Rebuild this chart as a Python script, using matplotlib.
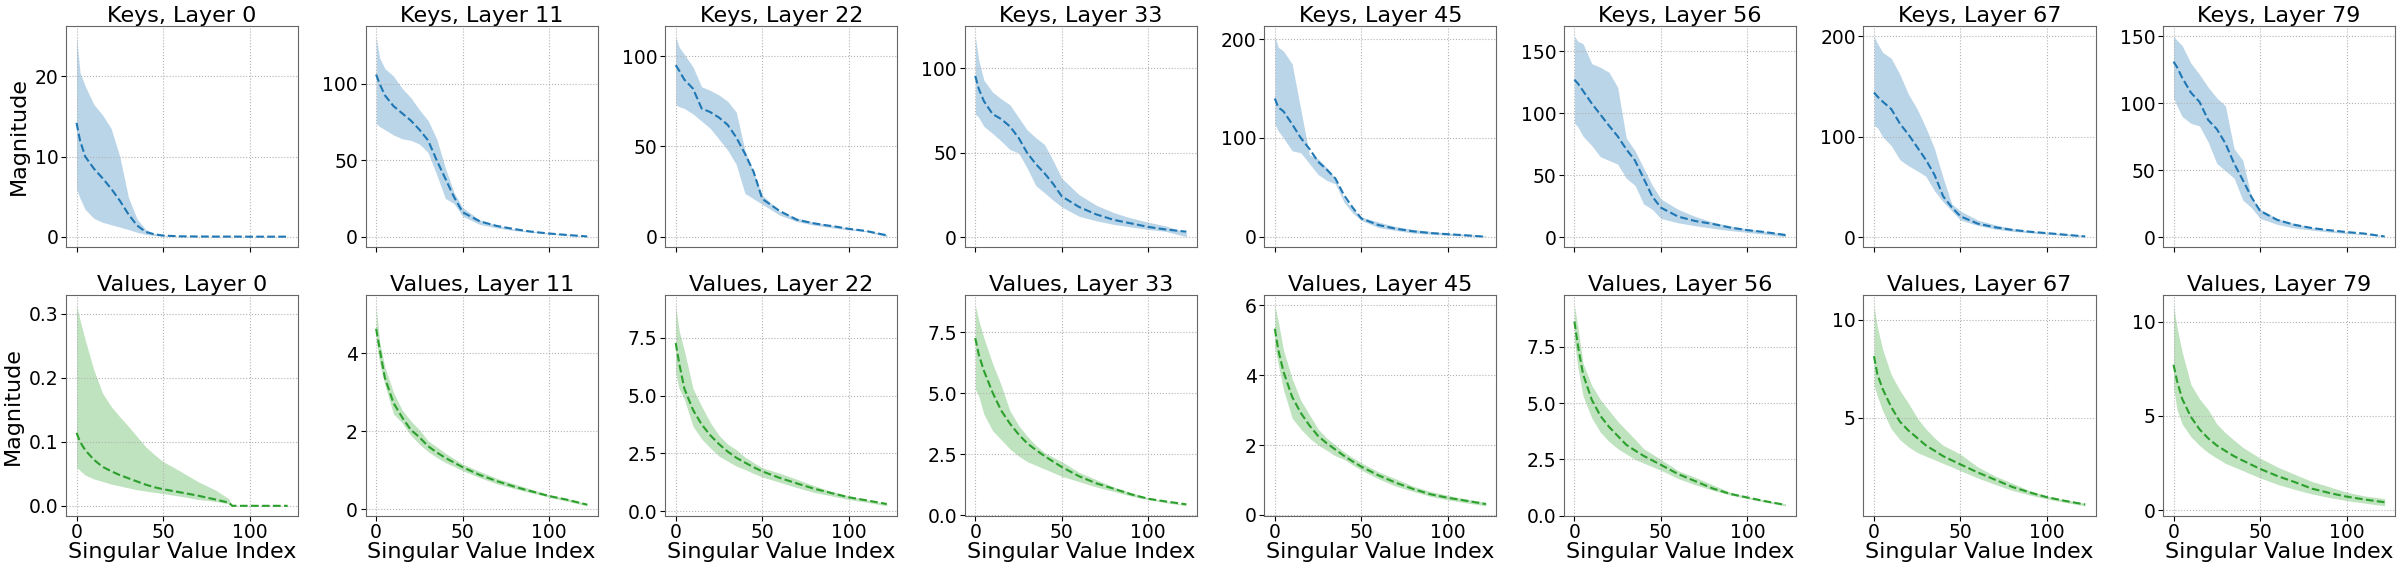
import matplotlib
matplotlib.use("Agg")
import matplotlib.pyplot as plt
from matplotlib.ticker import MaxNLocator

layers = [0, 11, 22, 33, 45, 56, 67, 79]
idx = [0, 2, 5, 10, 15, 20, 25, 30, 35, 40, 45, 50, 60, 70, 80, 88, 90, 100, 110, 122]

# keys: mean and band (lo/hi) per layer
keys_mean = [
    [14.2, 12, 10, 8.5, 7.3, 6.0, 4.5, 2.8, 1.4, 0.6, 0.3, 0.15, 0.05, 0.03, 0.02, 0.02, 0.02, 0.01, 0.01, 0.01],
    [106, 100, 92.5, 85.4, 80.7, 76, 70, 63, 50, 38, 26, 16, 10, 7, 5, 3.6, 3.3, 2.1, 1.2, 0.2],
    [95, 92, 87, 82, 71, 69, 66, 62, 55, 46, 36, 21, 14.3, 9.4, 7.4, 6.2, 6, 4.4, 3.2, 0.8],
    [95.5, 88, 80.6, 73, 70, 65.7, 59, 50, 43.4, 38, 31.7, 24.3, 18, 13.6, 10.4, 8.7, 8.3, 6.2, 4.7, 3.4],
    [140, 131, 127, 114, 100, 89, 76, 68, 59, 42, 29.5, 18.5, 11.8, 8.1, 5.5, 4.1, 3.7, 2.6, 1.5, 0],
    [127, 124, 118, 108, 99, 90, 81.5, 71, 62, 47.6, 33, 24, 16.8, 13.2, 10.9, 8.6, 8, 5.9, 4.4, 2],
    [144, 140, 135, 127.5, 113, 102, 89.5, 77, 62, 40.6, 29.7, 20.7, 13.4, 9.8, 7.2, 5.8, 5.4, 4, 2.5, 0.7],
    [131, 127, 119, 108, 101, 87.5, 80.7, 70, 55, 42.7, 30, 19.6, 12.8, 9.2, 6.8, 5.5, 5.2, 3.8, 2.7, 0.5],
]
keys_lo = [
    [5.9, 4.8, 3.4, 2.3, 1.8, 1.5, 1.2, 0.9, 0.55, 0.3, 0.15, 0.08, 0.03, 0.01, 0.01, 0, 0, 0, 0, 0],
    [74, 72, 70, 66.5, 64, 63, 60.6, 55, 40.5, 25, 21.7, 13.4, 8, 5.7, 4, 3.0, 2.8, 1.7, 0.9, 0],
    [73, 72, 71, 68, 64, 60, 54, 48, 40, 24, 21, 18, 12, 8.4, 6.4, 5.3, 5, 3.8, 2.8, 0],
    [73, 71, 65.7, 61.5, 57, 52, 50, 41, 30.6, 26.4, 22, 18, 12.5, 9.8, 7.7, 6.5, 6.2, 4.7, 3.6, 0.4],
    [114, 107, 100, 87, 85, 74, 63, 57, 53.5, 35, 24, 16.6, 9.2, 6.3, 3.7, 2.8, 2.6, 1.5, 0.7, 0],
    [92, 89, 81.5, 74, 65, 62, 59, 47.6, 42, 27, 22.6, 15.3, 11.8, 9.4, 7.4, 5.9, 5.6, 4.1, 2.6, 0.6],
    [111, 109, 100, 91, 77, 71, 66, 60.5, 46, 35, 26, 17, 11.6, 8, 5.8, 4.6, 4.3, 2.9, 1.8, 0.4],
    [104, 98, 90, 85, 83, 71, 55, 49.5, 44, 27.7, 22, 14, 9.5, 6.8, 5.2, 4.1, 3.8, 2.7, 1.9, 0.3],
]
keys_hi = [
    [25, 20.5, 18.8, 16.5, 15.2, 13.5, 10, 4.9, 2.2, 0.9, 0.4, 0.2, 0.05, 0.03, 0.02, 0.02, 0.02, 0.01, 0.01, 0.01],
    [131, 117, 110, 105, 97, 91, 83, 76, 64, 45, 29, 19, 11, 7.5, 5, 3.8, 3.5, 2.4, 1.4, 0.3],
    [111, 105, 101, 94, 83, 81, 78.5, 75, 69, 48, 36, 23, 14.3, 10.4, 8, 6.7, 6.4, 4.8, 3.4, 1.4],
    [119, 105, 93, 86, 82, 78.5, 71, 63.6, 59, 55, 45.5, 35, 25.3, 19, 14.7, 12.1, 11.5, 9, 6.8, 3],
    [203, 192, 188, 175, 129, 83, 79, 70, 59, 39, 28, 20, 14.8, 10.3, 7.4, 5.9, 5.5, 3.7, 2.6, 0.7],
    [162, 158, 156, 140, 137, 133, 121, 80, 70, 56, 42, 31, 22.6, 16.8, 12.4, 10, 9.4, 7, 5, 2.9],
    [200, 193, 184, 178, 162, 142, 127.5, 109, 88, 59, 33, 26, 17, 12.3, 8.7, 6.7, 6.2, 4.3, 3.3, 1.8],
    [150, 147, 143, 130, 121.5, 112, 104, 98, 66, 57.6, 30, 21, 14, 10, 7.3, 5.8, 5.4, 3.8, 2.4, 1.1],
]

# values: mean and band (lo/hi) per layer
vals_mean = [
    [0.114, 0.10, 0.087, 0.072, 0.061, 0.054, 0.048, 0.043, 0.038, 0.033, 0.029, 0.026, 0.021, 0.016, 0.010, 0.005, 0, 0, 0, 0],
    [4.63, 4.12, 3.38, 2.73, 2.36, 2.04, 1.85, 1.62, 1.46, 1.32, 1.2, 1.08, 0.88, 0.72, 0.58, 0.48, 0.46, 0.34, 0.25, 0.12],
    [7.27, 6.4, 5.3, 4.38, 3.75, 3.28, 2.9, 2.58, 2.31, 2.1, 1.9, 1.72, 1.44, 1.2, 0.97, 0.82, 0.78, 0.6, 0.47, 0.31],
    [7.26, 6.59, 5.92, 5.03, 4.29, 3.76, 3.32, 2.95, 2.68, 2.43, 2.2, 1.98, 1.6, 1.31, 1.09, 0.91, 0.86, 0.68, 0.57, 0.45],
    [5.33, 4.72, 4.1, 3.38, 2.92, 2.56, 2.26, 2.05, 1.87, 1.69, 1.53, 1.38, 1.13, 0.92, 0.74, 0.62, 0.59, 0.49, 0.41, 0.31],
    [8.63, 7.58, 6.29, 5.16, 4.44, 3.95, 3.55, 3.15, 2.9, 2.66, 2.46, 2.26, 1.85, 1.53, 1.21, 1.02, 0.97, 0.81, 0.65, 0.48],
    [8.15, 7.22, 6.48, 5.55, 4.81, 4.35, 3.98, 3.6, 3.33, 3.05, 2.84, 2.63, 2.22, 1.85, 1.48, 1.26, 1.2, 0.96, 0.78, 0.59],
    [7.71, 6.86, 5.9, 4.95, 4.29, 3.81, 3.43, 3.14, 2.86, 2.63, 2.41, 2.19, 1.81, 1.49, 1.14, 0.96, 0.91, 0.72, 0.57, 0.42],
]
vals_lo = [
    [0.060, 0.055, 0.048, 0.042, 0.038, 0.034, 0.031, 0.028, 0.025, 0.023, 0.021, 0.019, 0.015, 0.010, 0.007, 0.003, 0, 0, 0, 0],
    [4.35, 3.75, 3.2, 2.45, 2.22, 1.9, 1.67, 1.48, 1.33, 1.2, 1.1, 0.99, 0.81, 0.65, 0.53, 0.44, 0.42, 0.31, 0.21, 0.09],
    [5.94, 5.3, 4.84, 3.67, 3.12, 2.73, 2.38, 2.16, 1.95, 1.8, 1.63, 1.48, 1.25, 1.02, 0.81, 0.69, 0.66, 0.5, 0.39, 0.23],
    [5.18, 4.88, 4.14, 3.47, 3.1, 2.72, 2.43, 2.2, 2.05, 1.9, 1.75, 1.6, 1.38, 1.16, 0.98, 0.83, 0.79, 0.64, 0.52, 0.39],
    [4.82, 4.3, 3.59, 2.77, 2.46, 2.2, 2.0, 1.85, 1.69, 1.59, 1.43, 1.28, 1.03, 0.82, 0.67, 0.56, 0.53, 0.43, 0.35, 0.26],
    [7.74, 6.6, 5.32, 4.35, 3.71, 3.3, 2.98, 2.74, 2.5, 2.34, 2.18, 2.02, 1.65, 1.37, 1.13, 0.96, 0.92, 0.76, 0.6, 0.44],
    [6.67, 6.1, 5.37, 4.44, 3.89, 3.52, 3.24, 3.05, 2.87, 2.68, 2.5, 2.31, 1.94, 1.61, 1.3, 1.12, 1.07, 0.87, 0.7, 0.52],
    [6.48, 5.33, 4.57, 3.9, 3.43, 3.05, 2.76, 2.48, 2.29, 2.1, 1.9, 1.71, 1.37, 1.1, 0.86, 0.71, 0.67, 0.51, 0.38, 0.23],
]
vals_hi = [
    [0.313, 0.29, 0.259, 0.212, 0.176, 0.155, 0.139, 0.124, 0.108, 0.092, 0.080, 0.069, 0.054, 0.038, 0.025, 0.011, 0, 0, 0, 0],
    [5.23, 4.3, 3.66, 3.0, 2.55, 2.27, 2.04, 1.76, 1.6, 1.44, 1.3, 1.16, 0.97, 0.79, 0.65, 0.54, 0.51, 0.37, 0.28, 0.14],
    [8.9, 7.8, 6.95, 5.3, 4.53, 3.83, 3.28, 2.9, 2.66, 2.34, 2.1, 1.88, 1.64, 1.38, 1.1, 0.9, 0.86, 0.66, 0.5, 0.31],
    [8.6, 8.0, 7.26, 6.22, 5.33, 4.29, 3.69, 3.24, 2.87, 2.57, 2.38, 2.2, 1.76, 1.46, 1.16, 0.98, 0.94, 0.71, 0.57, 0.42],
    [6.0, 5.54, 4.72, 3.9, 3.28, 2.87, 2.46, 2.2, 2.0, 1.8, 1.64, 1.49, 1.23, 1.03, 0.82, 0.7, 0.67, 0.56, 0.46, 0.36],
    [9.35, 8.4, 6.77, 5.8, 5.16, 4.68, 4.2, 3.8, 3.4, 2.98, 2.74, 2.5, 2.0, 1.7, 1.37, 1.11, 1.05, 0.84, 0.68, 0.52],
    [10.74, 9.63, 8.5, 7.2, 6.4, 5.74, 5.0, 4.44, 3.98, 3.6, 3.38, 3.15, 2.5, 2.04, 1.67, 1.37, 1.3, 1.02, 0.83, 0.65],
    [10.86, 9.7, 8.38, 6.67, 5.9, 5.33, 4.57, 4.1, 3.71, 3.33, 3.04, 2.76, 2.29, 1.9, 1.52, 1.3, 1.24, 0.95, 0.76, 0.61],
]

fig, axes = plt.subplots(2, 8, figsize=(24, 5.7), dpi=100, sharex=True)
fig.subplots_adjust(left=0.0275, right=0.998, top=0.954, bottom=0.095,
                    wspace=0.29, hspace=0.22)

rows = [
    ("Keys", keys_mean, keys_lo, keys_hi, "tab:blue"),
    ("Values", vals_mean, vals_lo, vals_hi, "tab:green"),
]

for r, (name, means, los, his, color) in enumerate(rows):
    for c, layer in enumerate(layers):
        ax = axes[r, c]
        ax.fill_between(idx, los[c], his[c], color=color, alpha=0.3, linewidth=0)
        ax.plot(idx, means[c], color=color, linestyle="--", linewidth=1.5)
        ax.set_title(f"{name}, Layer {layer}", fontsize=16, pad=3)
        ax.grid(True, linestyle=":", color="0.7", linewidth=0.8)
        ax.tick_params(labelsize=13.5, pad=2)
        ax.yaxis.set_major_locator(MaxNLocator(nbins=4, steps=[1, 2, 2.5, 5, 10]))
        for sp in ax.spines.values():
            sp.set_color("0.4")
        if c == 0:
            ax.set_ylabel("Magnitude", fontsize=16)
        if r == 1:
            ax.set_xlabel("Singular Value Index", fontsize=16, labelpad=0)

axes[1, 0].set_xticks([0, 50, 100])

fig.savefig("out.png")
